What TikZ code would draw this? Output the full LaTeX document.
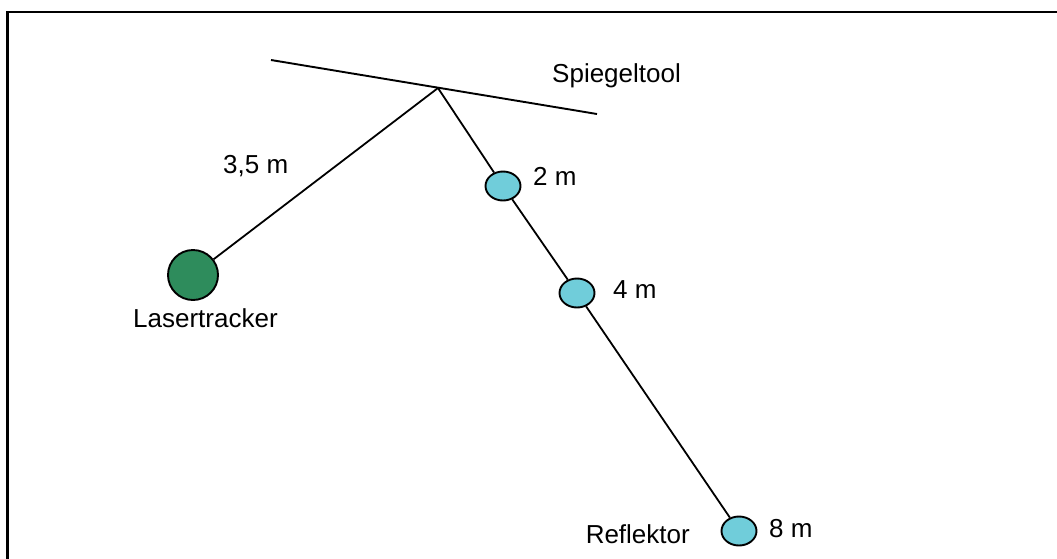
\documentclass[tikz,border=0pt]{standalone}
\usepackage{fontspec}
\setmainfont{Liberation Sans}
\usetikzlibrary{shapes.geometric}
\definecolor{trackgreen}{RGB}{46,140,92}
\definecolor{reflcyan}{RGB}{112,205,218}
\tikzstyle{lbl}=[inner sep=0pt, font=\fontsize{26}{30}\selectfont]
\tikzstyle{beam}=[line width=1.8pt]
\tikzstyle{refl}=[ellipse, draw, line width=1.9pt, fill=reflcyan,
  minimum width=35pt, minimum height=29pt, inner sep=0pt]
% reflector at #2 with its distance label at #3
\newcommand{\reflpos}[4]{
  \node[refl] (#1) at (#2) {};
  \node[lbl, anchor=base west] (#1txt) at (#3) {#4}
 }

\begin{document}
\begin{tikzpicture}[x=1pt,y=-1pt]
       \useasboundingbox (0,0) rectangle (1057,558);
       \draw[line width=2.8pt] (7.5,560) -- (7.5,12) -- (1060,12);
       % mirror
       \coordinate (mleft) at (271,60);
       \coordinate (mright) at (597,114);
       \coordinate (hit) at (438,88);
       \draw[line width=1.9pt] (mleft) -- (mright);
       \node[lbl, anchor=base west] (spiegel) at (552,82) {Spiegeltool};
       % tracker
       \node[circle, draw, line width=1.9pt, fill=trackgreen,
             minimum size=50pt, inner sep=0pt] (tracker) at (193,275) {};
       \node[lbl, anchor=base west] (trackertxt) at (133,327) {Lasertracker};
       \node[lbl, anchor=base west] (dist) at (223,173) {3,5 m};
       % reflector positions
       \reflpos{r2}{503,186}{533,185}{2 m};
       \reflpos{r4}{577,293}{613,298}{4 m};
       \reflpos{r8}{739,531}{769,537}{8 m};
       \node[lbl, anchor=base east] (refltxt) at (690,543) {Reflektor};
       \draw[beam] (tracker) -- (hit);
       \draw[beam] (hit) -- (r2);
       \draw[beam] (r2) -- (r4);
       \draw[beam] (r4) -- (r8);
     \end{tikzpicture}
\end{document}
